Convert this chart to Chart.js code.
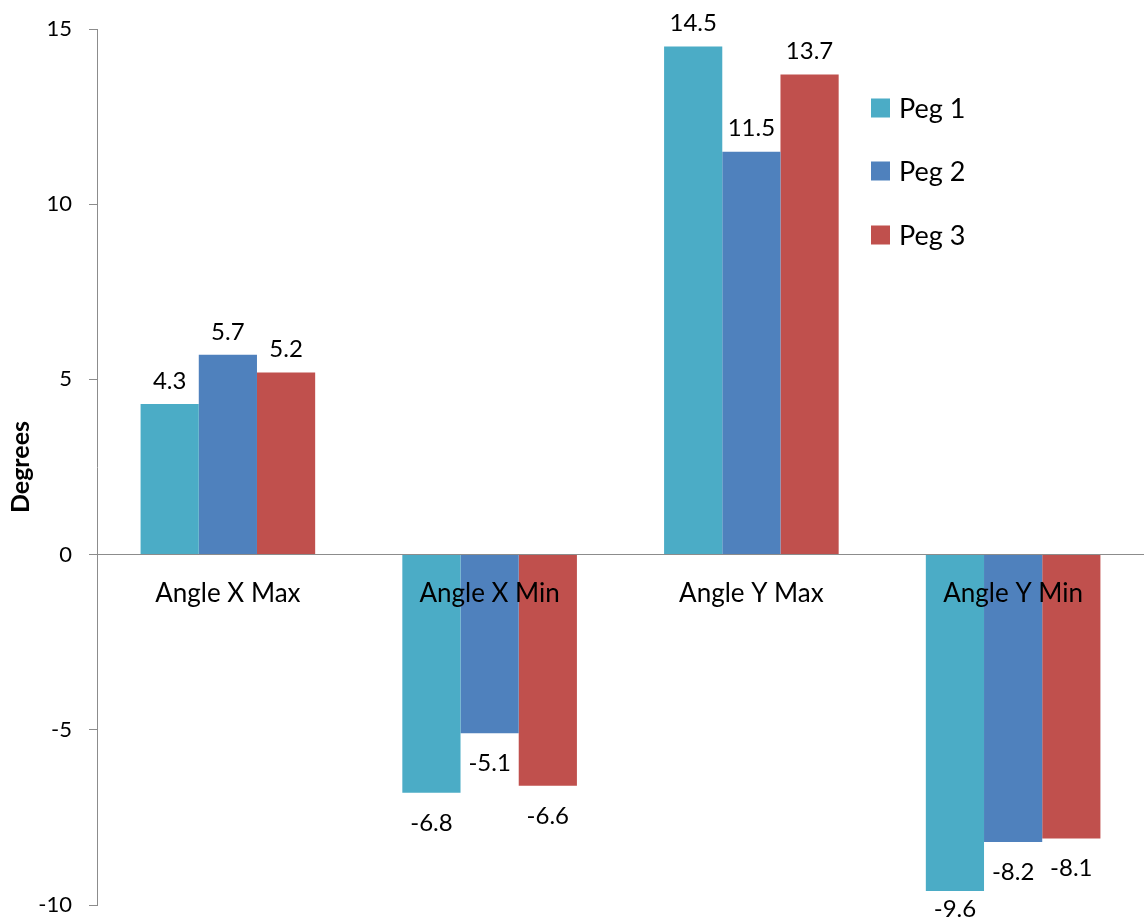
<!DOCTYPE html>
<html>
<head>
<meta charset="utf-8">
<script src="https://cdn.jsdelivr.net/npm/chart.js@4/dist/chart.umd.min.js"></script>
<style>
html,body{margin:0;padding:0;background:#fff;}
#wrap{width:1144px;height:918px;position:relative;}
</style>
</head>
<body>
<div id="wrap"><canvas id="c" width="1144" height="918"></canvas></div>
<script>
const categories = ["Angle X Max", "Angle X Min", "Angle Y Max", "Angle Y Min"];
const seriesNames = ["Peg 1", "Peg 2", "Peg 3"];
const peg1 = [4.3, -6.8, 14.5, -9.6];
const peg2 = [5.7, -5.1, 11.5, -8.2];
const peg3 = [5.2, -6.6, 13.7, -8.1];
const yTicks = [-10, -5, 0, 5, 10, 15];
const colors = ["#4BACC6", "#4F81BD", "#C0504D"];

const FONT = "Lato, 'Open Sans', sans-serif";

const labelPlugin = {
  id: 'barLabels',
  afterDatasetsDraw(chart) {
    const ctx = chart.ctx;
    ctx.save();
    ctx.font = "24px " + FONT;
    ctx.fillStyle = "#000";
    ctx.textAlign = "center";
    ctx.textBaseline = "middle";
    chart.data.datasets.forEach((ds, i) => {
      const meta = chart.getDatasetMeta(i);
      meta.data.forEach((bar, j) => {
        const v = ds.data[j];
        let y = v >= 0 ? bar.y - 23 : bar.y + 30;
        if (y > 909) y = 909;
        ctx.fillText(v.toFixed(1), bar.x, y);
      });
    });
    ctx.restore();
  }
};

const legendPlugin = {
  id: 'customLegend',
  afterDraw(chart) {
    const ctx = chart.ctx;
    ctx.save();
    ctx.font = "27px " + FONT;
    ctx.textBaseline = "middle";
    ctx.textAlign = "left";
    const ys = [108, 171, 235];
    chart.data.datasets.forEach((ds, i) => {
      ctx.fillStyle = ds.backgroundColor;
      ctx.fillRect(871, ys[i] - 9.5, 19, 19);
      ctx.fillStyle = "#000";
      ctx.fillText(ds.label, 899, ys[i] + 1);
    });
    ctx.restore();
  }
};

new Chart(document.getElementById('c'), {
  type: 'bar',
  data: {
    labels: categories,
    datasets: [
      { label: seriesNames[0], data: peg1, backgroundColor: colors[0] },
      { label: seriesNames[1], data: peg2, backgroundColor: colors[1] },
      { label: seriesNames[2], data: peg3, backgroundColor: colors[2] }
    ]
  },
  options: {
    responsive: false,
    animation: false,
    devicePixelRatio: 1,
    layout: { padding: { top: 29, bottom: 13, left: 0, right: 0 } },
    datasets: { bar: { categoryPercentage: 0.667, barPercentage: 1.0, borderWidth: 0 } },
    plugins: { legend: { display: false }, tooltip: { enabled: false } },
    scales: {
      x: {
        position: { y: 0 },
        afterFit(scale) { scale.height = 0; scale.paddingTop = 0; scale.paddingBottom = 0; scale.paddingLeft = 0; scale.paddingRight = 0; },
        grid: { display: false, drawTicks: false },
        border: { display: true, color: "#8c8c8c", width: 1 },
        ticks: { z: 1, color: "#000", font: { family: FONT, size: 26 }, padding: 23 }
      },
      y: {
        min: -10, max: 15,
        afterBuildTicks(scale) { scale.ticks = yTicks.map(v => ({ value: v })); },
        afterFit(scale) { scale.width = 97; scale.paddingTop = 0; scale.paddingBottom = 0; },
        grid: { drawOnChartArea: false, drawTicks: true, tickLength: 8, color: "#8c8c8c" },
        border: { display: true, color: "#8c8c8c", width: 1 },
        ticks: { color: "#000", font: { family: FONT, size: 22 }, padding: 17 },
        title: { display: true, text: "Degrees", color: "#000", font: { family: FONT, size: 25, weight: "bold" }, padding: { top: 6, bottom: 0 } }
      }
    }
  },
  plugins: [labelPlugin, legendPlugin]
});
</script>
</body>
</html>
